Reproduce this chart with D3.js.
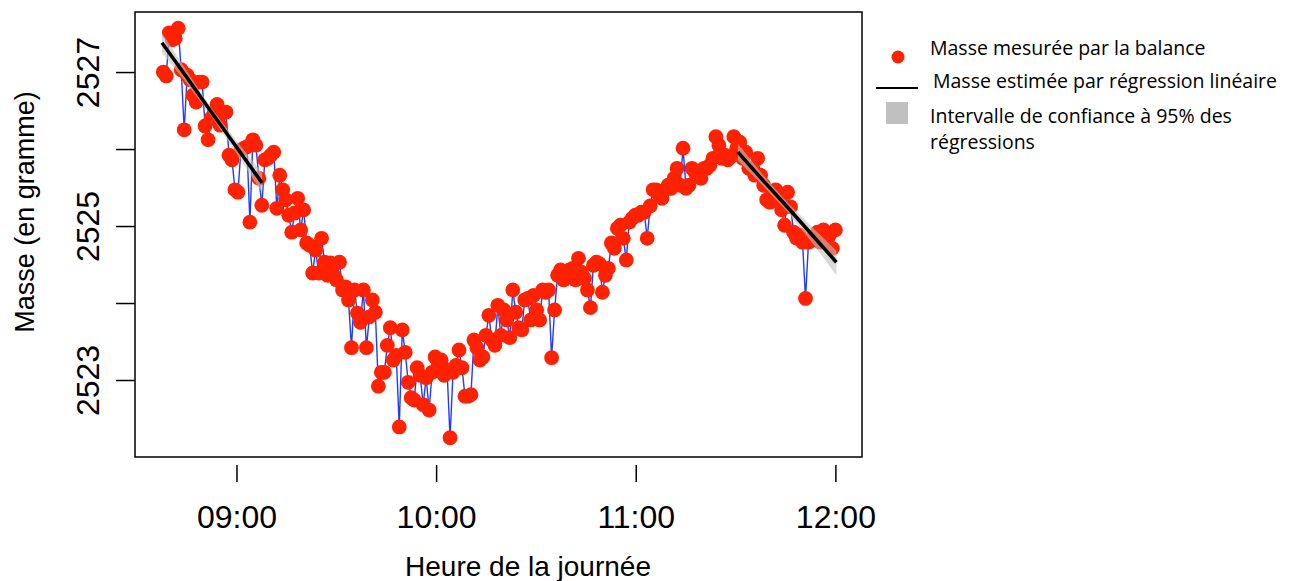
<!DOCTYPE html>
<html><head><meta charset="utf-8">
<script src="https://cdn.jsdelivr.net/npm/d3@7"></script>
<style>body{margin:0;background:#fff}svg{display:block}</style>
</head><body>
<svg id="c" width="1291" height="581"></svg>
<script>
// ---- data ----
const sampleStart = "08:38", sampleEnd = "12:00";
const masses = [
2527.00,2526.95,2527.51,2527.42,2527.44,2527.57,2527.03,2526.25,2526.96,2526.90,
2526.70,2526.61,2526.87,2526.87,2526.30,2526.12,2526.40,2526.48,2526.58,2526.31,
2526.47,2526.48,2525.92,2525.86,2525.47,2525.44,2525.99,2526.01,2526.03,2525.05,
2526.12,2526.05,2525.62,2525.27,2525.86,2525.88,2525.92,2525.96,2525.23,2525.66,
2525.47,2525.34,2525.14,2524.92,2525.17,2525.36,2524.95,2525.21,2524.78,2524.75,
2524.39,2524.69,2524.39,2524.84,2524.53,2524.36,2524.52,2524.36,2524.30,2524.53,
2524.17,2524.21,2524.04,2523.42,2524.17,2523.87,2523.75,2524.17,2523.42,2523.82,
2524.04,2523.88,2522.92,2523.10,2523.10,2523.45,2523.68,2523.26,2523.32,2522.39,
2523.65,2523.36,2522.97,2522.77,2522.74,2523.16,2523.06,2522.68,2523.03,2522.61,
2523.10,2523.30,2523.19,2523.26,2523.06,2523.13,2522.25,2523.10,2523.19,2523.39,
2523.16,2522.79,2522.79,2522.81,2523.52,2523.42,2523.26,2523.30,2523.58,2523.84,
2523.52,2523.45,2523.97,2523.58,2523.91,2523.78,2523.55,2524.17,2523.88,2523.68,
2523.65,2524.04,2524.06,2523.78,2524.10,2523.91,2523.78,2524.17,2524.14,2524.17,
2523.29,2523.91,2524.36,2524.43,2524.30,2524.40,2524.43,2524.45,2524.30,2524.58,
2524.40,2524.32,2524.17,2523.94,2524.49,2524.53,2524.51,2524.14,2524.36,2524.45,
2524.78,2524.71,2524.97,2525.01,2524.84,2524.56,2525.05,2525.10,2525.14,2525.14,
2525.18,2525.18,2524.84,2525.26,2525.47,2525.47,2525.40,2525.36,2525.47,2525.53,
2525.49,2525.62,2525.75,2525.53,2526.01,2525.49,2525.53,2525.75,2525.70,2525.70,
2525.62,2525.75,2525.75,2525.79,2525.88,2526.16,2526.05,2525.88,2525.92,2525.86,
2525.90,2526.16,2526.01,2526.09,2525.88,2525.96,2525.75,2525.75,2525.66,2525.88,
2525.66,2525.53,2525.34,2525.31,2525.40,2525.47,2525.34,2525.21,2525.01,2525.44,
2525.25,2524.92,2524.84,2524.88,2524.79,2524.06,2524.79,2524.84,2524.82,2524.92,
2524.79,2524.95,2524.82,2524.88,2524.71,2524.95
];
// regressions: time, fit, lower, upper
const reg1Times = ["08:37:36","08:45:06","08:52:36","09:00:06","09:07:42"];
const reg1Fit   = [2527.38,2526.93,2526.47,2526.02,2525.56];
const reg1Low   = [2527.25,2526.85,2526.42,2525.94,2525.43];
const reg1High  = [2527.51,2527.01,2526.52,2526.10,2525.69];
const reg2Times = ["11:30:42","11:38:06","11:45:30","11:52:54","12:00:18"];
const reg2Fit   = [2525.96,2525.60,2525.25,2524.89,2524.53];
const reg2Low   = [2525.85,2525.53,2525.19,2524.79,2524.36];
const reg2High  = [2526.07,2525.67,2525.31,2524.99,2524.68];
const xTicks = ["09:00","10:00","11:00","12:00"];
const yTicks = [2523,2524,2525,2526,2527];
const yLabelled = [2523,2525,2527];
const xDomain = ["08:29:30","12:08:00"];
const yDomain = [2522.0,2527.78];
const legendItems = ["Masse mesurée par la balance","Masse estimée par régression linéaire","Intervalle de confiance à 95% des","régressions"];

// ---- helpers ----
const toDate = s => { const p = s.split(":").map(Number); return new Date(2024,0,1,p[0],p[1],p[2]||0); };
const t0 = toDate(sampleStart), t1 = toDate(sampleEnd);
const step = (t1 - t0) / (masses.length - 1);
const pts = masses.map((m,i) => ({t: new Date(+t0 + i*step), m}));

const svg = d3.select("#c");
const L=135, R=862, T=12, B=457;
const x = d3.scaleTime().domain(xDomain.map(toDate)).range([L,R]);
const y = d3.scaleLinear().domain(yDomain).range([B,T]);
const AX = "Liberation Sans, Arial, sans-serif";

// connecting line
svg.append("path").datum(pts)
  .attr("d", d3.line().x(d=>x(d.t)).y(d=>y(d.m)))
  .attr("fill","none").attr("stroke","#1f3bff").attr("stroke-width",1.4);
// points
svg.append("g").selectAll("circle").data(pts).join("circle")
  .attr("cx",d=>x(d.t)).attr("cy",d=>y(d.m)).attr("r",7.4).attr("fill","#ff2200");

function band(times, fit, lo, hi){
  const d = times.map((t,i)=>({t:toDate(t), f:fit[i], lo:lo[i], hi:hi[i]}));
  svg.append("path").datum(d)
    .attr("d", d3.area().x(v=>x(v.t)).y0(v=>y(v.lo)).y1(v=>y(v.hi)))
    .attr("fill","rgba(190,190,190,0.6)");
  svg.append("path").datum(d)
    .attr("d", d3.line().x(v=>x(v.t)).y(v=>y(v.f)))
    .attr("fill","none").attr("stroke","#000").attr("stroke-width",3.5);
}
band(reg1Times, reg1Fit, reg1Low, reg1High);
band(reg2Times, reg2Fit, reg2Low, reg2High);

// box
svg.append("rect").attr("x",L).attr("y",T).attr("width",R-L).attr("height",B-T)
  .attr("fill","none").attr("stroke","#000").attr("stroke-width",1.5);

// y axis
const ya = svg.append("g").attr("transform",`translate(${L},0)`)
  .call(d3.axisLeft(y).tickValues(yTicks).tickSize(19).tickFormat(v=>yLabelled.includes(v)?String(v):""));
ya.select(".domain").remove();
ya.selectAll(".tick line").attr("stroke","#000").attr("stroke-width",1.5);
ya.selectAll(".tick text").attr("transform","rotate(-90)").attr("x",0).attr("y",-47)
  .attr("dy","0.35em").attr("text-anchor","middle")
  .style("font-family",AX).style("font-size","32px").attr("fill","#000");

// x axis
const xa = svg.append("g").attr("transform",`translate(0,${B+8})`)
  .call(d3.axisBottom(x).tickValues(xTicks.map(toDate)).tickSize(17).tickFormat(d3.timeFormat("%H:%M")));
xa.select(".domain").remove();
xa.selectAll(".tick line").attr("stroke","#000").attr("stroke-width",1.5);
xa.selectAll(".tick text").attr("y",52).attr("dy","0.35em")
  .style("font-family",AX).style("font-size","32px").attr("fill","#000");

// axis titles
svg.append("text").attr("x",528).attr("y",566).attr("dy","0.35em").attr("text-anchor","middle")
  .style("font-family",AX).style("font-size","28px").text("Heure de la journée");
svg.append("text").attr("transform","translate(25,212) rotate(-90)").attr("dy","0.35em").attr("text-anchor","middle")
  .style("font-family",AX).style("font-size","27px").text("Masse (en gramme)");

// legend
const lg = svg.append("g").style("font-family","Open Sans, sans-serif").style("font-size","19.5px");
lg.append("circle").attr("cx",898).attr("cy",57).attr("r",6.5).attr("fill","#ff2200");
lg.append("line").attr("x1",876).attr("x2",918).attr("y1",88).attr("y2",88).attr("stroke","#000").attr("stroke-width",2);
lg.append("rect").attr("x",886).attr("y",102).attr("width",22).attr("height",22).attr("fill","#c0c0c0");
const ly = [48,81,116,142], lx = [930,933,930,930];
legendItems.forEach((s,i)=>lg.append("text").attr("x",lx[i]).attr("y",ly[i]).attr("dy","0.35em").text(s));
</script>
</body></html>
